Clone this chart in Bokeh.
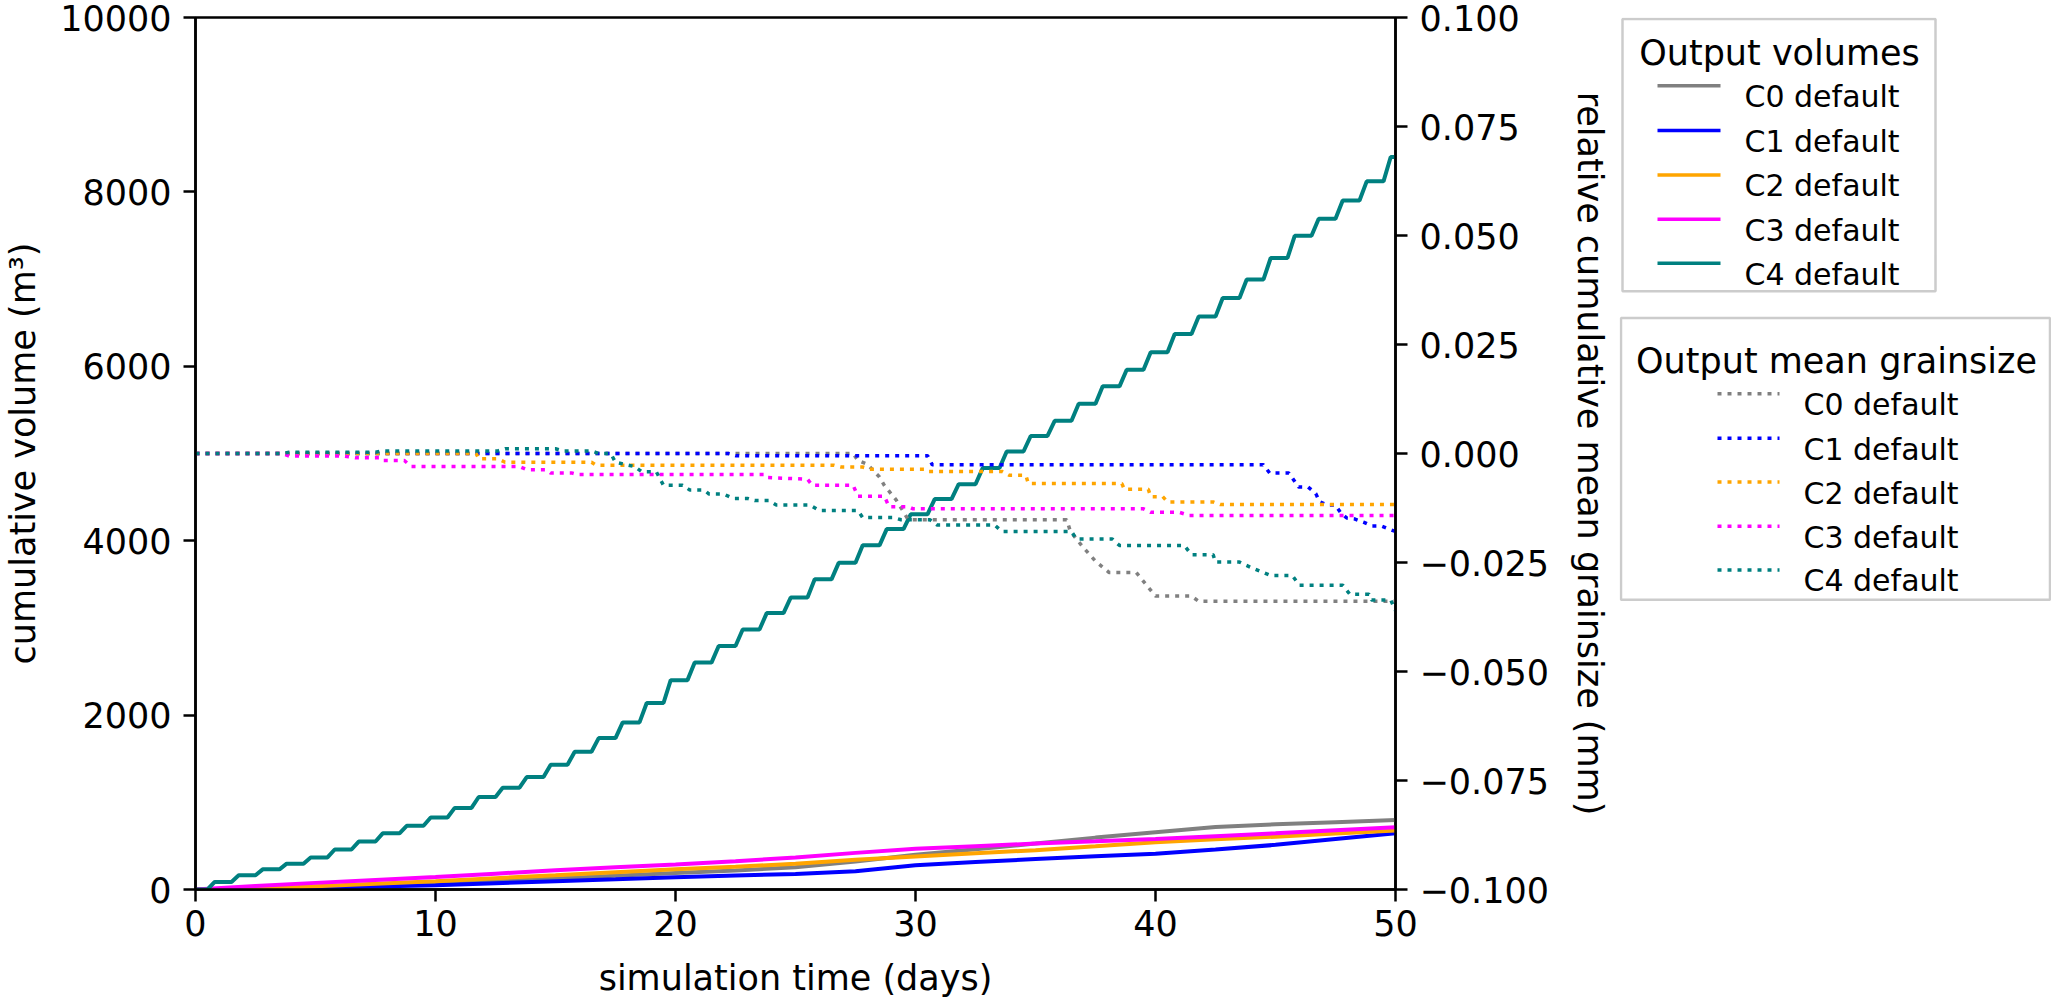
from bokeh.plotting import figure
from bokeh.models import Range1d, LinearAxis, FixedTicker
from bokeh.core.properties import value
from bokeh.layouts import row
from bokeh.embed import file_html
from bokeh.resources import INLINE

# ---------------- data ----------------
series_names = ["C0 default", "C1 default", "C2 default", "C3 default", "C4 default"]
series_colors = ["#808080", "#0000ff", "#ffa500", "#ff00ff", "#008080"]
legend_titles = ["Output volumes", "Output mean grainsize"]

# cumulative output volume (m3), sampled every 2.5 days
vol_days = [0, 2.5, 5, 7.5, 10, 12.5, 15, 17.5, 20, 22.5, 25, 27.5, 30, 32.5, 35,
            37.5, 40, 42.5, 45, 47.5, 50]
c0_volume = [0, 8, 23, 44, 68, 95, 125, 157, 190, 218, 255, 320, 398, 462, 527,
             595, 656, 718, 747, 772, 796]
c1_volume = [0, 8, 19, 33, 49, 72, 95, 117, 140, 160, 178, 208, 277, 315, 349,
             380, 409, 458, 512, 580, 644]
c2_volume = [0, 5, 38, 66, 95, 130, 163, 197, 231, 262, 295, 340, 379, 415, 451,
             495, 542, 575, 606, 642, 678]
c3_volume = [0, 40, 76, 110, 144, 182, 220, 255, 288, 325, 366, 420, 466, 497, 527,
             553, 580, 612, 644, 680, 713]

# C4 cumulative volume: level reached each day (day 0 .. 50)
c4_days = list(range(51))
c4_volume = [0, 87, 163, 231, 296, 368, 459, 550, 644, 731, 826, 936, 1061, 1167,
             1289, 1430, 1580, 1736, 1916, 2139, 2401, 2602, 2792, 2981, 3170, 3348,
             3557, 3746, 3947, 4133, 4303, 4477, 4648, 4833, 5023, 5201, 5375, 5570,
             5770, 5960, 6160, 6370, 6570, 6784, 6996, 7242, 7496, 7693, 7901, 8121,
             8400]

# relative cumulative mean grainsize (mm), breakpoints (day, value)
c0_grain_t = [0, 27.4, 27.6, 28.0, 28.5, 28.7, 29.2, 29.7, 36.3, 36.45, 36.95, 37.5,
              38.07, 39.2, 39.7, 40.0, 41.5, 41.8, 50]
c0_grain_v = [0, 0, -0.0016, -0.0025, -0.0054, -0.0073, -0.0107, -0.0152, -0.0152,
              -0.0178, -0.0213, -0.0247, -0.0273, -0.0273, -0.0307, -0.0327, -0.0327,
              -0.0339, -0.0339]
c1_grain_t = [0, 22.2, 22.5, 30.5, 30.7, 44.5, 44.76, 45.56, 45.96, 46.36, 46.68,
              46.84, 47.16, 47.49, 47.73, 47.97, 48.29, 48.69, 49.0, 49.4, 49.8, 50]
c1_grain_v = [0, 0, -0.0005, -0.0005, -0.0026, -0.0026, -0.0045, -0.0045, -0.0077,
              -0.0077, -0.0092, -0.0111, -0.0118, -0.0118, -0.0137, -0.0148, -0.0150,
              -0.0158, -0.0166, -0.0166, -0.0175, -0.0179]
c2_grain_t = [0, 11.7, 11.8, 12.6, 12.9, 16.5, 16.7, 26.6, 26.9, 27.8, 28.1, 30.4,
              30.5, 33.6, 33.9, 34.6, 34.7, 38.6, 38.7, 39.7, 39.8, 40.3, 40.5, 42.4,
              42.7, 50]
c2_grain_v = [0, 0, -0.0012, -0.0012, -0.0020, -0.0020, -0.0027, -0.0027, -0.0031,
              -0.0031, -0.0036, -0.0036, -0.0041, -0.0041, -0.0050, -0.0050, -0.0069,
              -0.0069, -0.0082, -0.0082, -0.0099, -0.0099, -0.0111, -0.0111, -0.0117,
              -0.0117]
c3_grain_t = [0, 3.6, 3.9, 6.2, 6.7, 7.7, 7.8, 8.7, 9.0, 13.5, 13.8, 14.6, 14.8, 15.7,
              15.9, 23.7, 23.8, 25.5, 25.7, 27.4, 27.6, 28.7, 28.9, 29.7, 29.9, 39.5,
              39.8, 41.0, 41.4, 50]
c3_grain_v = [0, 0, -0.0006, -0.0006, -0.0010, -0.0010, -0.0016, -0.0016, -0.0030,
              -0.0030, -0.0037, -0.0037, -0.0045, -0.0045, -0.0048, -0.0048, -0.0055,
              -0.0059, -0.0073, -0.0073, -0.0098, -0.0098, -0.0122, -0.0122, -0.0127,
              -0.0127, -0.0135, -0.0135, -0.0142, -0.0142]
c4_grain_t = [0, 3.6, 3.9, 7.5, 7.8, 12.6, 12.9, 15.0, 15.3, 16.5, 16.8, 17.3, 17.5,
              18.3, 18.6, 19.2, 19.5, 20.3, 20.6, 21.2, 21.4, 22.0, 22.4, 23.0, 23.3,
              23.9, 24.2, 25.6, 26.0, 27.6, 27.8, 29.1, 29.4, 30.6, 30.9, 33.3, 33.6,
              36.5, 36.7, 38.2, 38.5, 41.2, 41.5, 42.4, 42.5, 43.5, 44.0, 44.8, 45.7,
              46.0, 47.8, 48.1, 48.9, 49.0, 49.8, 50]
c4_grain_v = [0, 0, 0.0003, 0.0003, 0.0006, 0.0006, 0.0011, 0.0011, 0.0006, 0.0006,
              0, 0, -0.0020, -0.0030, -0.0042, -0.0042, -0.0073, -0.0073, -0.0084,
              -0.0084, -0.0093, -0.0093, -0.0103, -0.0103, -0.0108, -0.0108, -0.0118,
              -0.0118, -0.0131, -0.0131, -0.0147, -0.0147, -0.0152, -0.0152, -0.0164,
              -0.0164, -0.0179, -0.0179, -0.0196, -0.0196, -0.0211, -0.0211, -0.0232,
              -0.0232, -0.0249, -0.0249, -0.0262, -0.0280, -0.0280, -0.0302, -0.0302,
              -0.0323, -0.0323, -0.0336, -0.0336, -0.0360]

x_ticks = [0, 10, 20, 30, 40, 50]
vol_ticks = [0, 2000, 4000, 6000, 8000, 10000]
grain_ticks = [-0.1, -0.075, -0.05, -0.025, 0.0, 0.025, 0.05, 0.075, 0.1]
grain_tick_labels = ["\u22120.100", "\u22120.075", "\u22120.050", "\u22120.025", "0.000",
                     "0.025", "0.050", "0.075", "0.100"]

# ---------------- main figure ----------------
FONT = "DejaVu Sans"
TOTAL_W, TOTAL_H = 2051, 1000
MAIN_W = 1619
LEFT, RIGHT, TOP, BOTTOM = 188, 224, 17, 107

p = figure(width=MAIN_W, height=TOTAL_H,
           x_range=Range1d(0, 50), y_range=Range1d(0, 10000),
           output_backend="svg", toolbar_location=None,
           min_border_left=LEFT, min_border_right=RIGHT,
           min_border_top=TOP, min_border_bottom=BOTTOM)
p.extra_y_ranges = {"grain": Range1d(-0.1, 0.1)}
p.xgrid.visible = False
p.ygrid.visible = False
p.outline_line_color = "black"
p.outline_line_width = 2.5
p.outline_line_alpha = 1.0
p.background_fill_color = "white"
p.border_fill_color = "white"

def style_axis(ax):
    ax.axis_line_width = 2.5
    ax.major_tick_line_width = 2.5
    ax.major_tick_out = 12
    ax.major_tick_in = 0
    ax.minor_tick_line_color = None
    ax.major_label_text_font = FONT
    ax.major_label_text_font_size = "35px"
    ax.major_label_text_color = "black"
    ax.major_label_standoff = 12
    ax.axis_label_text_font = FONT
    ax.axis_label_text_font_size = "35px"
    ax.axis_label_text_font_style = "normal"
    ax.axis_label_text_color = "black"

xa = p.xaxis[0]
xa.ticker = FixedTicker(ticks=x_ticks)
xa.axis_label = "simulation time (days)"
style_axis(xa)
xa.major_label_standoff = 8
xa.axis_label_standoff = 19

ya = p.yaxis[0]
ya.ticker = FixedTicker(ticks=vol_ticks)
ya.axis_label = "cumulative volume (m³)"
style_axis(ya)
ya.axis_label_standoff = 14

ra = LinearAxis(y_range_name="grain", ticker=FixedTicker(ticks=grain_ticks),
                major_label_overrides={t: s for t, s in zip(grain_ticks, grain_tick_labels)},
                axis_label="relative cumulative mean grainsize (mm)")
style_axis(ra)
ra.axis_label_standoff = 18
p.add_layout(ra, "right")

# ---------------- volume lines (left axis) ----------------
for vals, col in zip([c0_volume, c1_volume, c2_volume, c3_volume], series_colors[:4]):
    p.line(vol_days, vals, line_color=col, line_width=4)

# C4: daily stair-like build-up (flat around each day, rise between days)
tx, ty = [], []
for d, v in zip(c4_days, c4_volume):
    tx += [max(d - 0.2, 0.0), min(d + 0.5, 50.0)]
    ty += [v, v]
p.line(tx, ty, line_color=series_colors[4], line_width=4)

# ---------------- grainsize lines (right axis) ----------------
DOT = dict(line_width=3.5, line_dash="4 6", line_cap="butt")
for t, v, col in zip([c0_grain_t, c1_grain_t, c2_grain_t, c3_grain_t, c4_grain_t],
                     [c0_grain_v, c1_grain_v, c2_grain_v, c3_grain_v, c4_grain_v],
                     series_colors):
    p.line(t, v, line_color=col, y_range_name="grain", **DOT)

# ---------------- legend panel (separate figure, 1 unit = 1 pixel) ----------------
# its frame has the same vertical borders as the main figure, so that a data unit
# is one pixel and data y = TOTAL_H - (pixel row from the top)
LEG_W = TOTAL_W - MAIN_W
lf = figure(width=LEG_W, height=TOTAL_H,
            x_range=Range1d(0, LEG_W), y_range=Range1d(BOTTOM, TOTAL_H - TOP),
            x_axis_location=None, y_axis_location=None,
            output_backend="svg", toolbar_location=None,
            min_border_left=0, min_border_right=0,
            min_border_top=TOP, min_border_bottom=BOTTOM)
lf.xgrid.visible = False
lf.ygrid.visible = False
lf.outline_line_color = None
lf.background_fill_color = "white"
lf.border_fill_color = "white"

def Y(py):  # pixel row from the top -> data y
    return TOTAL_H - py

def legend_box(title, left, right, top, bottom, title_cx, title_base,
               sample_x0, sample_x1, label_x, row_centers, line_style):
    lf.quad(left=[left], right=[right], top=[Y(top)], bottom=[Y(bottom)],
            fill_color="white", line_color="#cccccc", line_width=2.5)
    lf.text(x=[title_cx], y=[Y(title_base)], text=[title], text_align="center",
            text_baseline="alphabetic", text_font=value(FONT),
            text_font_size=value("35px"), text_color="black")
    for col, rc in zip(series_colors, row_centers):
        lf.line([sample_x0, sample_x1], [Y(rc), Y(rc)], line_color=col, **line_style)
    lf.text(x=[label_x] * len(series_names), y=[Y(rc + 11) for rc in row_centers],
            text=series_names, text_align="left", text_baseline="alphabetic",
            text_font=value(FONT), text_font_size=value("30px"), text_color="black")

legend_box(legend_titles[0], 3, 316, 18.5, 292, 160, 52.5, 38, 101, 125,
           [85.6, 130.4, 175.1, 219.8, 263.8], dict(line_width=3.5))
legend_box(legend_titles[1], 1.5, LEG_W - 1.5, 319, 602, 217, 362, 98, 160, 184,
           [395, 439.7, 483.7, 528, 572], DOT)

open("out.html", "w").write(file_html(row(p, lf), INLINE))
